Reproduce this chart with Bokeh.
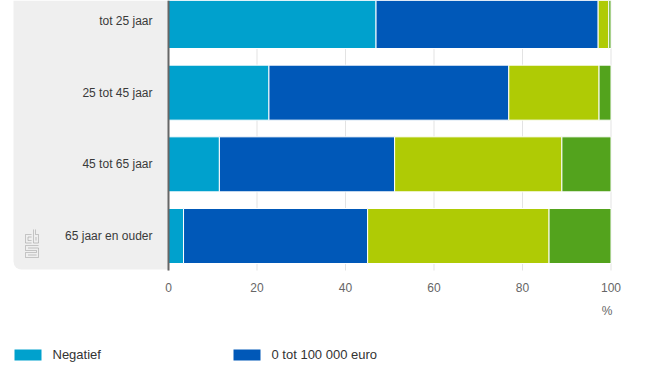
from bokeh.plotting import figure
from bokeh.models import (Range1d, FixedTicker, BoxAnnotation, PolyAnnotation,
                          Label, ColumnDataSource)
from bokeh.embed import file_html
from bokeh.resources import INLINE

# ---- data -------------------------------------------------------------
categories = ["tot 25 jaar", "25 tot 45 jaar", "45 tot 65 jaar", "65 jaar en ouder"]
negatief = [46.9, 22.7, 11.5, 3.4]
tot_100k = [50.2, 54.2, 39.6, 41.6]
k100_tot_500k = [2.4, 20.4, 37.8, 41.0]
meer_500k = [0.5, 2.7, 11.1, 14.0]
series_labels = ["Negatief", "0 tot 100 000 euro", "100 000 tot 500 000 euro", "500 000 euro of meer"]
x_ticks = [0, 20, 40, 60, 80, 100]

colors = ["#00A1CD", "#0058B8", "#AFCB05", "#53A31D"]
keys = ["negatief", "tot_100k", "k100_tot_500k", "meer_500k"]

src = ColumnDataSource(dict(
    y=list(range(len(categories))),
    negatief=negatief, tot_100k=tot_100k,
    k100_tot_500k=k100_tot_500k, meer_500k=meer_500k,
))

# ---- geometry (page px -> data units) ---------------------------------
W, H = 660, 365
PITCH = 71.67
Y_TOP = -20.5 / PITCH
Y_BOTTOM = Y_TOP + H / PITCH
PX_PER_X = 4.425
X0_PX = 168


def dx(px):
    return (px - X0_PX) / PX_PER_X


def dy(py):
    return Y_TOP + py / PITCH


p = figure(width=W, height=H, output_backend="svg", toolbar_location=None,
           x_range=Range1d(dx(0), dx(W)), y_range=Range1d(Y_BOTTOM, Y_TOP),
           min_border_left=0, min_border_right=0, min_border_top=0,
           min_border_bottom=0, outline_line_color=None, title=None)
p.background_fill_color = "white"
p.border_fill_color = "white"
p.xgrid.visible = False
p.ygrid.visible = False

# grey side panel behind the category labels
panel = BoxAnnotation(left=dx(13), right=0, top=Y_TOP, bottom=dy(269),
                      fill_color="#EFEFEF", fill_alpha=1, line_color=None,
                      border_radius=(0, 0, 0, 8), level="underlay")
p.add_layout(panel)


# small cbs logo (decoration)
def retrace(pts):
    pts2 = pts + pts[::-1]
    return [dx(a) for a, b in pts2], [dy(b) for a, b in pts2]


logo_paths = [
    [(31, 234), (25, 234), (25, 242.5), (31, 242.5)],
    [(31, 236.5), (27.5, 236.5), (27.5, 240), (31, 240)],
    [(33, 229), (33, 242.5), (38, 242.5), (38, 234), (35, 234), (35, 229)],
    [(35.5, 236.5), (35.5, 240)],
    [(38, 245), (25, 245), (25, 250), (36, 250), (36, 252), (25, 252),
     (25, 257), (38, 257), (38, 247.5), (27.5, 247.5)],
    [(27.5, 254.5), (36, 254.5)],
]
for path in logo_paths:
    xs, ys = retrace(path)
    p.add_layout(PolyAnnotation(xs=xs, ys=ys, fill_alpha=0, line_color="#9c9c9c",
                                line_width=1, level="underlay"))

# vertical grid lines at the x ticks, limited to the plot area
grid = p.segment(x0=x_ticks, x1=x_ticks, y0=[Y_TOP] * len(x_ticks),
                 y1=[dy(270)] * len(x_ticks), line_color="#e3e3e3", line_width=1)
grid.level = "underlay"

renderers = p.hbar_stack(keys, y="y", height=55 / PITCH, color=colors, source=src,
                         line_color="white", line_width=1,
                         legend_label=series_labels)

# axes
p.yaxis.fixed_location = 0
p.yaxis.bounds = (Y_TOP, dy(270))
p.yaxis.ticker = FixedTicker(ticks=list(range(len(categories))))
p.yaxis.major_label_overrides = {i: c for i, c in enumerate(categories)}
p.yaxis.major_tick_line_color = None
p.yaxis.minor_tick_line_color = None
p.yaxis.major_tick_out = 0
p.yaxis.major_tick_in = 0
p.yaxis.axis_line_color = "#666666"
p.yaxis.axis_line_width = 2
p.yaxis.major_label_standoff = 16
p.yaxis.major_label_text_font = "Liberation Sans"
p.yaxis.major_label_text_font_size = "12px"
p.yaxis.major_label_text_color = "#3a3a3a"

p.xaxis.fixed_location = dy(270)
p.xaxis.bounds = (0, 100)
p.xaxis.ticker = FixedTicker(ticks=x_ticks)
p.xaxis.axis_line_color = None
p.xaxis.major_tick_line_color = None
p.xaxis.minor_tick_line_color = None
p.xaxis.major_tick_out = 0
p.xaxis.major_tick_in = 0
p.xaxis.major_label_standoff = 12
p.xaxis.major_label_text_font = "Liberation Sans"
p.xaxis.major_label_text_font_size = "12px"
p.xaxis.major_label_text_color = "#666666"

p.add_layout(Label(x=100, y=dy(310), text="%", x_offset=-4, text_align="center",
                   text_baseline="middle", text_font="Liberation Sans",
                   text_font_size="12px", text_color="#666666"))

# legend: only the first row of the legend is within the visible area
leg = p.legend[0]
leg.items = leg.items[:2]
leg.location = (9.5, 3.5)
leg.orientation = "horizontal"
leg.ncols = 2
leg.padding = 0
leg.margin = 0
leg.spacing = 0
leg.border_line_color = None
leg.background_fill_alpha = 0
leg.glyph_width = 35
leg.glyph_height = 15
leg.label_height = 15
leg.label_width = 176
leg.label_standoff = 8
leg.label_text_font = "Liberation Sans"
leg.label_text_font_size = "13px"
leg.label_text_color = "#333333"

open("out.html", "w").write(file_html(p, INLINE))
